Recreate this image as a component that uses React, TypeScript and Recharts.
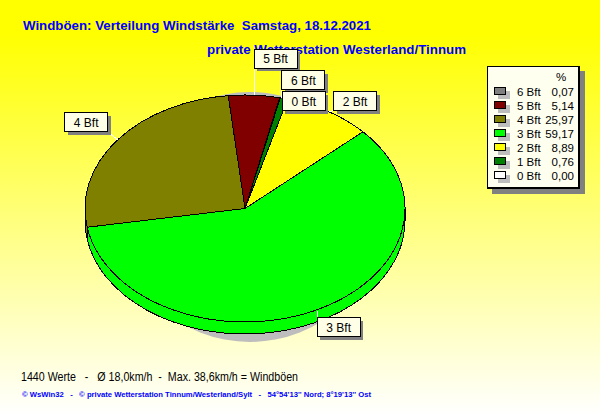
import { Legend, Pie, PieChart } from "recharts";

const categories = ["4 Bft", "5 Bft", "6 Bft", "0 Bft", "1 Bft", "2 Bft", "3 Bft"];
const shares = [25.97, 5.14, 0.07, 0.0, 0.76, 8.89, 59.17];
const shareLabels = ["25,97", "5,14", "0,07", "0,00", "0,76", "8,89", "59,17"];
const sliceColors = ["#808000", "#800000", "#808080", "#ffffff", "#008000", "#ffff00", "#00ff00"];
const legendOrder = ["6 Bft", "5 Bft", "4 Bft", "3 Bft", "2 Bft", "1 Bft", "0 Bft"];
const unlabeled = ["1 Bft"];

const data = categories.map((name, i) => ({
  name,
  value: shares[i],
  text: shareLabels[i],
  fill: sliceColors[i],
}));

const W = 600;
const H = 415;
const CX = 245;
const CY = 208.5;
const RX = 160;
const RY = 113.5;
const DEPTH = 12;
const FONT = "'Liberation Sans', Arial, sans-serif";

// where each callout box sits relative to its slice's rim point
const calloutOffset: Record<string, [number, number]> = {
  "4 Bft": [-53, -27],
  "5 Bft": [0, -46],
  "6 Bft": [2, -27],
  "0 Bft": [2, -6],
  "2 Bft": [5, -20],
  "3 Bft": [2, 7],
};

const rad = (a: number) => (a * Math.PI) / 180;
const px = (a: number) => CX + RX * Math.cos(rad(a));
const py = (a: number) => CY - RY * Math.sin(rad(a));

// the library hands us the angles, we squash the sector into the tilted ellipse
function TiltedSector(props: any) {
  const { startAngle, endAngle, fill } = props;
  const hi = Math.max(startAngle, endAngle);
  const lo = Math.min(startAngle, endAngle);
  const large = hi - lo > 180 ? 1 : 0;
  const top = `M${CX},${CY} L${px(hi)},${py(hi)} A${RX},${RY} 0 ${large} 1 ${px(lo)},${py(lo)} Z`;

  // rim wall, only the part of the slice facing down
  const parts: string[] = [];
  const addWall = (a: number, b: number) => {
    if (a <= b) return;
    const big = a - b > 180 ? 1 : 0;
    parts.push(
      `M${px(a)},${py(a)} A${RX},${RY} 0 ${big} 1 ${px(b)},${py(b)} L${px(b)},${py(b) + DEPTH} A${RX},${RY} 0 ${big} 0 ${px(a)},${py(a) + DEPTH} Z`,
    );
  };
  // angles here run down from about 189 to -171
  addWall(hi, Math.max(lo, 180));
  addWall(Math.min(hi, 0), Math.max(lo, -180));

  return (
    <g shapeRendering="crispEdges">
      {parts.map((d) => (
        <path key={d} d={d} fill={fill} stroke="#000" strokeWidth={1} />
      ))}
      <path d={top} fill={fill} stroke="#000" strokeWidth={1} />
    </g>
  );
}

function Callout(props: any) {
  const { midAngle, name } = props;
  if (unlabeled.includes(name)) return null;
  const [dx, dy] = calloutOffset[name];
  const ax = px(midAngle);
  const ay = py(midAngle);
  const bx = ax + dx;
  const by = ay + dy;
  const w = 43;
  const h = 19;
  return (
    <g>
      <line
        x1={Math.abs(dx) < 4 ? bx : ax}
        y1={ay}
        x2={bx + (dx < -40 ? w : 0)}
        y2={by + (dy < 0 ? h : 0)}
        stroke="#fff"
        strokeWidth={1}
        shapeRendering="crispEdges"
      />
      <rect x={bx + 3} y={by + 3} width={w} height={h} fill="#808080" shapeRendering="crispEdges" />
      <rect x={bx} y={by} width={w} height={h} fill="#ffffe8" stroke="#000" shapeRendering="crispEdges" />
      <text x={bx + w / 2} y={by + 14} textAnchor="middle" fontFamily={FONT} fontSize={12} fill="#000">
        {name}
      </text>
    </g>
  );
}

function LegendBox() {
  return (
    <div
      style={{
        position: "relative",
        width: 90,
        height: 120,
        background: "#fffff0",
        border: "1px solid #000",
        borderRightWidth: 2,
        borderBottomWidth: 2,
        boxShadow: "5px 5px 0 #808080",
        fontFamily: FONT,
        fontSize: 11.5,
        color: "#000",
      }}
    >
      <div style={{ position: "absolute", left: 68, top: 4 }}>%</div>
      {legendOrder.map((name, i) => {
        const row = data.find((d) => d.name === name)!;
        return (
          <div key={name} style={{ position: "absolute", left: 0, top: 20 + i * 14, width: 90, height: 14 }}>
            <div style={{ position: "absolute", left: 10, top: 4, width: 12, height: 8, background: "#bdbdbd" }} />
            <div style={{ position: "absolute", left: 6, top: 0, width: 10, height: 6, background: row.fill, border: "1px solid #000" }} />
            <span style={{ position: "absolute", left: 29, top: -1 }}>{name}</span>
            <span style={{ position: "absolute", right: 4, top: -1 }}>{row.text}</span>
          </div>
        );
      })}
    </div>
  );
}

export default function App() {
  return (
    <div
      style={{
        position: "absolute",
        left: 0,
        top: 0,
        width: W,
        height: H,
        background: "linear-gradient(to bottom, #ffff00 0%, #ffff00 8%, #ffffff 100%)",
      }}
    >
      <PieChart width={W} height={H} margin={{ top: 0, right: 0, bottom: 0, left: 0 }}>
        <text x={23} y={30} fontFamily={FONT} fontSize={13.5} fontWeight="bold" fill="#0000ff" textLength={348} lengthAdjust="spacingAndGlyphs" style={{ whiteSpace: "pre" }}>
          {"Windböen: Verteilung Windstärke  Samstag, 18.12.2021"}
        </text>
        <text x={207} y={54} fontFamily={FONT} fontSize={13.5} fontWeight="bold" fill="#0000ff" textLength={259} lengthAdjust="spacingAndGlyphs">
          private Wetterstation Westerland/Tinnum
        </text>
        <ellipse cx={250} cy={217} rx={130} ry={125} fill="#bdbdbd" />
        <Pie
          data={data}
          dataKey="value"
          nameKey="name"
          cx={CX}
          cy={CY}
          outerRadius={RX}
          startAngle={189.5}
          endAngle={-170.5}
          paddingAngle={0}
          minAngle={0}
          isAnimationActive={false}
          shape={TiltedSector}
          label={Callout}
          labelLine={false}
        />
        <text x={21} y={381} fontFamily={FONT} fontSize={12} fill="#000" textLength={277} lengthAdjust="spacingAndGlyphs" style={{ whiteSpace: "pre" }}>
          {"1440 Werte   -   Ø 18,0km/h  -  Max. 38,6km/h = Windböen"}
        </text>
        <text x={22} y={397} fontFamily={FONT} fontSize={8} fontWeight="bold" fill="#0000ff" textLength={349} lengthAdjust="spacingAndGlyphs" style={{ whiteSpace: "pre" }}>
          {"© WsWin32   -   © private Wetterstation Tinnum/Westerland/Sylt   -   54°54'13'' Nord; 8°19'13'' Ost"}
        </text>
        <Legend content={<LegendBox />} layout="vertical" verticalAlign="top" align="right" wrapperStyle={{ left: 487, top: 66, width: 95 }} />
      </PieChart>
    </div>
  );
}
